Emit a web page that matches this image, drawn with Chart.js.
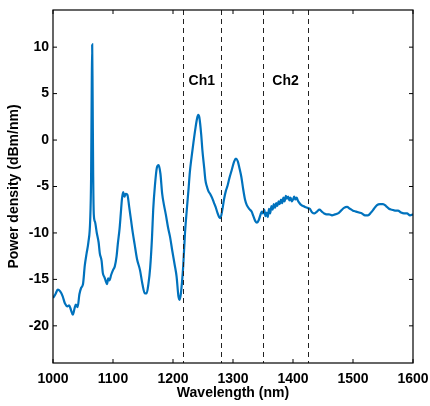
<!DOCTYPE html>
<html>
<head>
<meta charset="utf-8">
<script src="https://cdn.jsdelivr.net/npm/chart.js@4"></script>
<style>
  html, body { margin: 0; padding: 0; background: #fff; }
  #wrap { width: 430px; height: 406px; }
</style>
</head>
<body>
<div id="wrap"><canvas id="spectrum" width="430" height="406"></canvas></div>
<script>
// Spectrum
const wavelength = [
  1000, 1004, 1008, 1012, 1016, 1020, 1024, 1027, 1030, 1033, 1036, 1038, 1041, 1044, 1047, 1050,
  1053, 1056, 1059, 1062, 1063.5, 1064.5, 1065.3, 1066, 1067, 1068, 1070, 1073, 1076, 1078, 1081,
  1083, 1086, 1088, 1090, 1092, 1094, 1097, 1100, 1103, 1106, 1108, 1111, 1113, 1115, 1117, 1119,
  1121, 1124, 1127, 1130, 1133, 1136, 1140, 1145, 1149, 1153, 1156, 1159, 1162, 1165, 1167, 1170,
  1173, 1176, 1179, 1182, 1185, 1188, 1192, 1195, 1199, 1203, 1206, 1209, 1211, 1213, 1215, 1217,
  1220, 1223, 1226, 1228, 1231, 1234, 1237, 1240, 1242, 1244, 1247, 1249, 1252, 1254, 1256, 1259,
  1262, 1265, 1268, 1271, 1274, 1277, 1279, 1282, 1285, 1288, 1291, 1294, 1298, 1302, 1305, 1308,
  1311, 1314, 1317, 1320, 1323, 1327, 1331, 1334, 1337, 1340, 1343, 1346, 1348, 1350, 1352, 1354,
  1356, 1358, 1360, 1362, 1364, 1366, 1368, 1370, 1372, 1374, 1376, 1378, 1380, 1382, 1384, 1386,
  1388, 1390, 1392, 1394, 1396, 1398, 1400, 1402, 1404, 1406, 1408, 1411, 1414, 1417, 1420, 1424,
  1428, 1432, 1436, 1440, 1444, 1448, 1452, 1456, 1460, 1465, 1470, 1475, 1480, 1485, 1490, 1495,
  1500, 1505, 1510, 1515, 1520, 1525, 1530, 1535, 1540, 1545, 1550, 1555, 1560, 1565, 1570, 1575,
  1580, 1585, 1590, 1595, 1600
];
const powerDensity = [
  -17.0, -16.6, -16.1, -16.3, -16.8, -17.6, -17.9, -17.8, -18.3, -18.8, -18.1, -17.7, -18.0, -16.6, -15.9, -15.5,
  -13.5, -12.2, -11.0, -8.6, -4.0, 5.0, 10.3, 5.0, -4.0, -8.0, -8.8, -10.0, -11.0, -12.2, -13.0,
  -14.3, -14.8, -15.2, -15.5, -14.9, -15.1, -14.5, -14.0, -13.6, -12.5, -11.2, -9.5, -7.9, -6.3, -5.6, -6.1,
  -5.8, -5.9, -7.2, -8.6, -10.0, -11.2, -12.8, -14.0, -15.5, -16.5, -16.5, -15.5, -13.7, -10.5, -7.5, -4.8,
  -3.0, -2.7, -3.6, -5.8, -7.0, -8.0, -9.5, -10.4, -12.0, -13.5, -14.7, -16.8, -17.2, -16.6, -15.3, -13.6,
  -10.0, -7.5, -5.2, -3.5, -1.8, -0.3, 1.1, 2.3, 2.7, 2.4, 0.6, -1.1, -3.0, -4.3, -4.9, -5.5,
  -5.8, -6.2, -6.7, -7.2, -7.8, -8.3, -8.4, -7.6, -6.4, -5.5, -4.9, -4.1, -3.2, -2.3, -2.0, -2.3,
  -3.1, -4.0, -5.3, -6.4, -7.0, -7.4, -7.7, -8.2, -8.7, -8.9, -8.6, -8.0, -7.7, -7.9, -7.5, -8.2,
  -7.8, -8.3, -7.4, -7.9, -7.1, -7.5, -6.9, -7.3, -6.8, -7.1, -6.6, -6.9, -6.4, -6.8, -6.2, -6.6,
  -6.0, -6.3, -6.1, -6.5, -6.2, -6.6, -6.4, -6.1, -6.4, -6.2, -6.5, -6.8, -7.0, -7.1, -7.2, -7.3,
  -7.4, -7.8, -7.9, -7.7, -7.5, -7.7, -7.9, -8.0, -8.0, -8.1, -8.0, -7.9, -7.6, -7.3, -7.2, -7.4,
  -7.6, -7.7, -7.8, -7.9, -8.1, -8.1, -7.8, -7.4, -7.0, -6.9, -6.9, -7.1, -7.4, -7.5, -7.6, -7.6,
  -7.8, -7.9, -7.9, -8.1, -8.0
];

// channel edges (dashed lines) and labels
const channelEdges = [1216, 1280, 1350, 1425];
const channelNames = ['Ch1', 'Ch2'];
const channelRanges = [[1216, 1280], [1350, 1425]];
const labelLevel = 6.3;

const xTicks = [1000, 1100, 1200, 1300, 1400, 1500, 1600];
const yTicks = [-20, -15, -10, -5, 0, 5, 10];

const FONT = "'Liberation Sans', Arial, Helvetica, sans-serif";

// MATLAB style box with inward ticks, dashed channel edges, labels
const boxPlugin = {
    id: 'boxPlugin',
    afterDatasetsDraw(chart) {
        const ctx = chart.ctx;
        const area = chart.chartArea;
        const xs = chart.scales.x;
        const ys = chart.scales.y;
        const tl = 4;
        ctx.save();

        // dashed lines
        ctx.strokeStyle = '#222';
        ctx.lineWidth = 1;
        ctx.setLineDash([5, 4]);
        channelEdges.forEach(w => {
            const px = Math.round(xs.getPixelForValue(w)) + 0.5;
            ctx.beginPath();
            ctx.moveTo(px, area.top);
            ctx.lineTo(px, area.bottom);
            ctx.stroke();
        });
        ctx.setLineDash([]);

        // channel labels
        ctx.fillStyle = '#000';
        ctx.font = 'bold 14px ' + FONT;
        ctx.textAlign = 'center';
        ctx.textBaseline = 'middle';
        channelNames.forEach((name, i) => {
            const mid = (channelRanges[i][0] + channelRanges[i][1]) / 2;
            ctx.fillText(name, xs.getPixelForValue(mid), ys.getPixelForValue(labelLevel));
        });

        // box
        ctx.strokeStyle = '#000';
        ctx.lineWidth = 1.2;
        ctx.strokeRect(area.left, area.top, area.right - area.left, area.bottom - area.top);

        // inward ticks on all sides
        ctx.lineWidth = 1;
        ctx.beginPath();
        xTicks.forEach(v => {
            const px = xs.getPixelForValue(v);
            ctx.moveTo(px, area.bottom);
            ctx.lineTo(px, area.bottom - tl);
            ctx.moveTo(px, area.top);
            ctx.lineTo(px, area.top + tl);
        });
        yTicks.forEach(v => {
            const py = ys.getPixelForValue(v);
            ctx.moveTo(area.left, py);
            ctx.lineTo(area.left + tl, py);
            ctx.moveTo(area.right, py);
            ctx.lineTo(area.right - tl, py);
        });
        ctx.stroke();
        ctx.restore();
    }
};

const points = wavelength.map((w, i) => ({ x: w, y: powerDensity[i] }));

new Chart(document.getElementById('spectrum').getContext('2d'), {
    type: 'line',
    data: {
        datasets: [{
            data: points,
            borderColor: '#0072BD',
            borderWidth: 2.2,
            pointRadius: 0,
            fill: false,
            cubicInterpolationMode: 'monotone'
        }]
    },
    options: {
        responsive: false,
        animation: false,
        layout: { padding: { top: 10, right: 17, left: 0, bottom: 0 } },
        plugins: {
            legend: { display: false },
            tooltip: { enabled: false }
        },
        scales: {
            x: {
                type: 'linear',
                min: 1000,
                max: 1600,
                afterBuildTicks: s => { s.ticks = xTicks.map(v => ({ value: v })); },
                afterFit: s => { s.height = 43; s.paddingLeft = 0; s.paddingRight = 0; },
                grid: { display: false, drawTicks: false },
                border: { display: false },
                ticks: {
                    padding: 8,
                    color: '#000',
                    maxRotation: 0,
                    callback: v => String(v),
                    font: { family: FONT, size: 14, weight: 'bold' }
                },
                title: {
                    display: true,
                    text: 'Wavelength (nm)',
                    color: '#000',
                    padding: { top: 0, bottom: 4 },
                    font: { family: FONT, size: 14, weight: 'bold' }
                }
            },
            y: {
                min: -24,
                max: 14,
                afterBuildTicks: s => { s.ticks = yTicks.map(v => ({ value: v })); },
                afterFit: s => { s.width = 53; s.paddingTop = 0; s.paddingBottom = 0; },
                grid: { display: false, drawTicks: false },
                border: { display: false },
                ticks: {
                    padding: 4,
                    color: '#000',
                    font: { family: FONT, size: 14, weight: 'bold' }
                },
                title: {
                    display: true,
                    text: 'Power density (dBm/nm)',
                    color: '#000',
                    padding: { top: 6, bottom: 0 },
                    font: { family: FONT, size: 14, weight: 'bold' }
                }
            }
        }
    },
    plugins: [boxPlugin]
});
</script>
</body>
</html>
